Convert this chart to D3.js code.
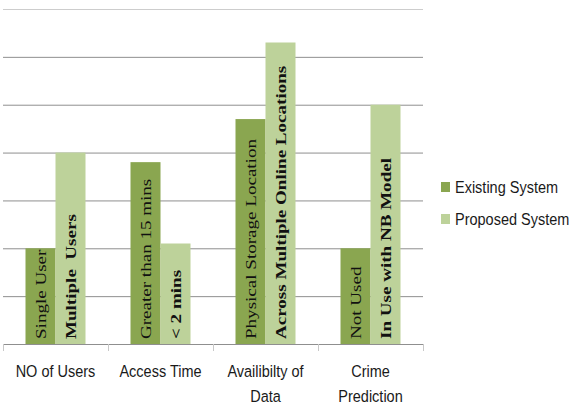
<!DOCTYPE html>
<html>
<head>
<meta charset="utf-8">
<style>
  body { margin: 0; background: #fff; }
  svg { display: block; }
</style>
</head>
<body>
<svg id="chart" width="574" height="408"></svg>
<script src="https://d3js.org/d3.v7.min.js"></script>
<script>
  // categories and values (gridline = 1 unit)
  let categories = ["NO of Users", "Access Time", "Availibilty of|Data", "Crime|Prediction"]
  let existingValues = [2, 3.8, 4.7, 2]
  let proposedValues = [4, 2.1, 6.3, 5]
  let existingLabels = ["Single User", "Greater than 15 mins", "Physical Storage Location", "Not Used"]
  let proposedLabels = ["Multiple  Users", "< 2 mins", "Across Multiple Online Locations", "In Use with NB Model"]
  let seriesNames = ["Existing System", "Proposed System"]
  let yTicks = [0, 1, 2, 3, 4, 5, 6, 7]

  let colors = ["#8aa650", "#bdd29a"]

  let svg = d3.select("#chart")

  // Scales
  let x = d3.scaleBand()
    .domain(categories)
    .range([3, 423])
    .paddingInner(0.4286)
    .paddingOuter(0.2143)

  let step = x.step()

  let x1 = d3.scaleBand()
    .domain(seriesNames)
    .range([0, x.bandwidth()])

  let y = d3.scaleLinear()
    .domain([0, 7])
    .range([344, 9])

  // gridlines
  svg.append("g").selectAll("line").data(yTicks.slice(1)).enter()
    .append("line")
    .attr("x1", 3).attr("x2", 423)
    .attr("y1", d => y(d) + 0.5).attr("y2", d => y(d) + 0.5)
    .style("stroke", d => d == 7 ? "#cdcdcd" : "#8f8f8f")
    .style("stroke-width", 1)

  // bars
  let rows = categories.map((c, i) => ({
    cat: c,
    vals: [
      {s: seriesNames[0], v: existingValues[i], label: existingLabels[i], bold: false},
      {s: seriesNames[1], v: proposedValues[i], label: proposedLabels[i], bold: true}
    ]
  }))

  let groups = svg.append("g").selectAll("g").data(rows).enter()
    .append("g")
    .attr("transform", d => `translate(${x(d.cat)},0)`)

  groups.selectAll("rect").data(d => d.vals).enter()
    .append("rect")
    .attr("x", d => x1(d.s))
    .attr("width", x1.bandwidth())
    .attr("y", d => y(d.v))
    .attr("height", d => y(0) - y(d.v))
    .style("fill", (d, i) => colors[i])

  groups.selectAll("text").data(d => d.vals).enter()
    .append("text")
    .attr("transform", d => `translate(${x1(d.s) + x1.bandwidth() / 2},${y(0) - 5}) rotate(-90) scale(1.23,1)`)
    .attr("dy", "0.33em")
    .style("font-family", "'Liberation Serif', 'Times New Roman', serif")
    .style("font-size", "15.5px")
    .style("font-weight", d => d.bold ? "bold" : "normal")
    .style("white-space", "pre")
    .style("fill", "#111")
    .text(d => d.label)

  // x axis line and ticks
  svg.append("line")
    .attr("x1", 3).attr("x2", 423)
    .attr("y1", y(0) + 0.5).attr("y2", y(0) + 0.5)
    .style("stroke", "#8f8f8f")

  let boundaries = d3.range(categories.length + 1).map(i => 3 + i * step)
  svg.append("g").selectAll("line").data(boundaries).enter()
    .append("line")
    .attr("x1", d => Math.round(d) + 0.5).attr("x2", d => Math.round(d) + 0.5)
    .attr("y1", y(0)).attr("y2", y(0) + 7)
    .style("stroke", "#c8c8c8")

  // category labels
  let catLabels = svg.append("g").selectAll("text").data(categories).enter()
    .append("text")
    .attr("transform", d => `translate(${x(d) + x.bandwidth() / 2},377) scale(1,1.17)`)
    .attr("text-anchor", "middle")
    .style("font-family", "'Liberation Sans', Arial, sans-serif")
    .style("font-size", "14.5px")
    .style("fill", "#1a1a1a")

  catLabels.selectAll("tspan").data(d => d.split("|")).enter()
    .append("tspan")
    .attr("x", 0)
    .attr("y", (d, i) => i * 21.5)
    .text(d => d)

  // legend
  let legend = svg.append("g").selectAll("g").data(seriesNames).enter()
    .append("g")
    .attr("transform", (d, i) => `translate(441,${182 + i * 32})`)

  legend.append("rect")
    .attr("width", 9).attr("height", 10)
    .style("fill", (d, i) => colors[i])

  legend.append("text")
    .attr("transform", "translate(14,11) scale(1,1.17)")
    .style("font-family", "'Liberation Sans', Arial, sans-serif")
    .style("font-size", "14.5px")
    .style("fill", "#1a1a1a")
    .text(d => d)
</script>
</body>
</html>
